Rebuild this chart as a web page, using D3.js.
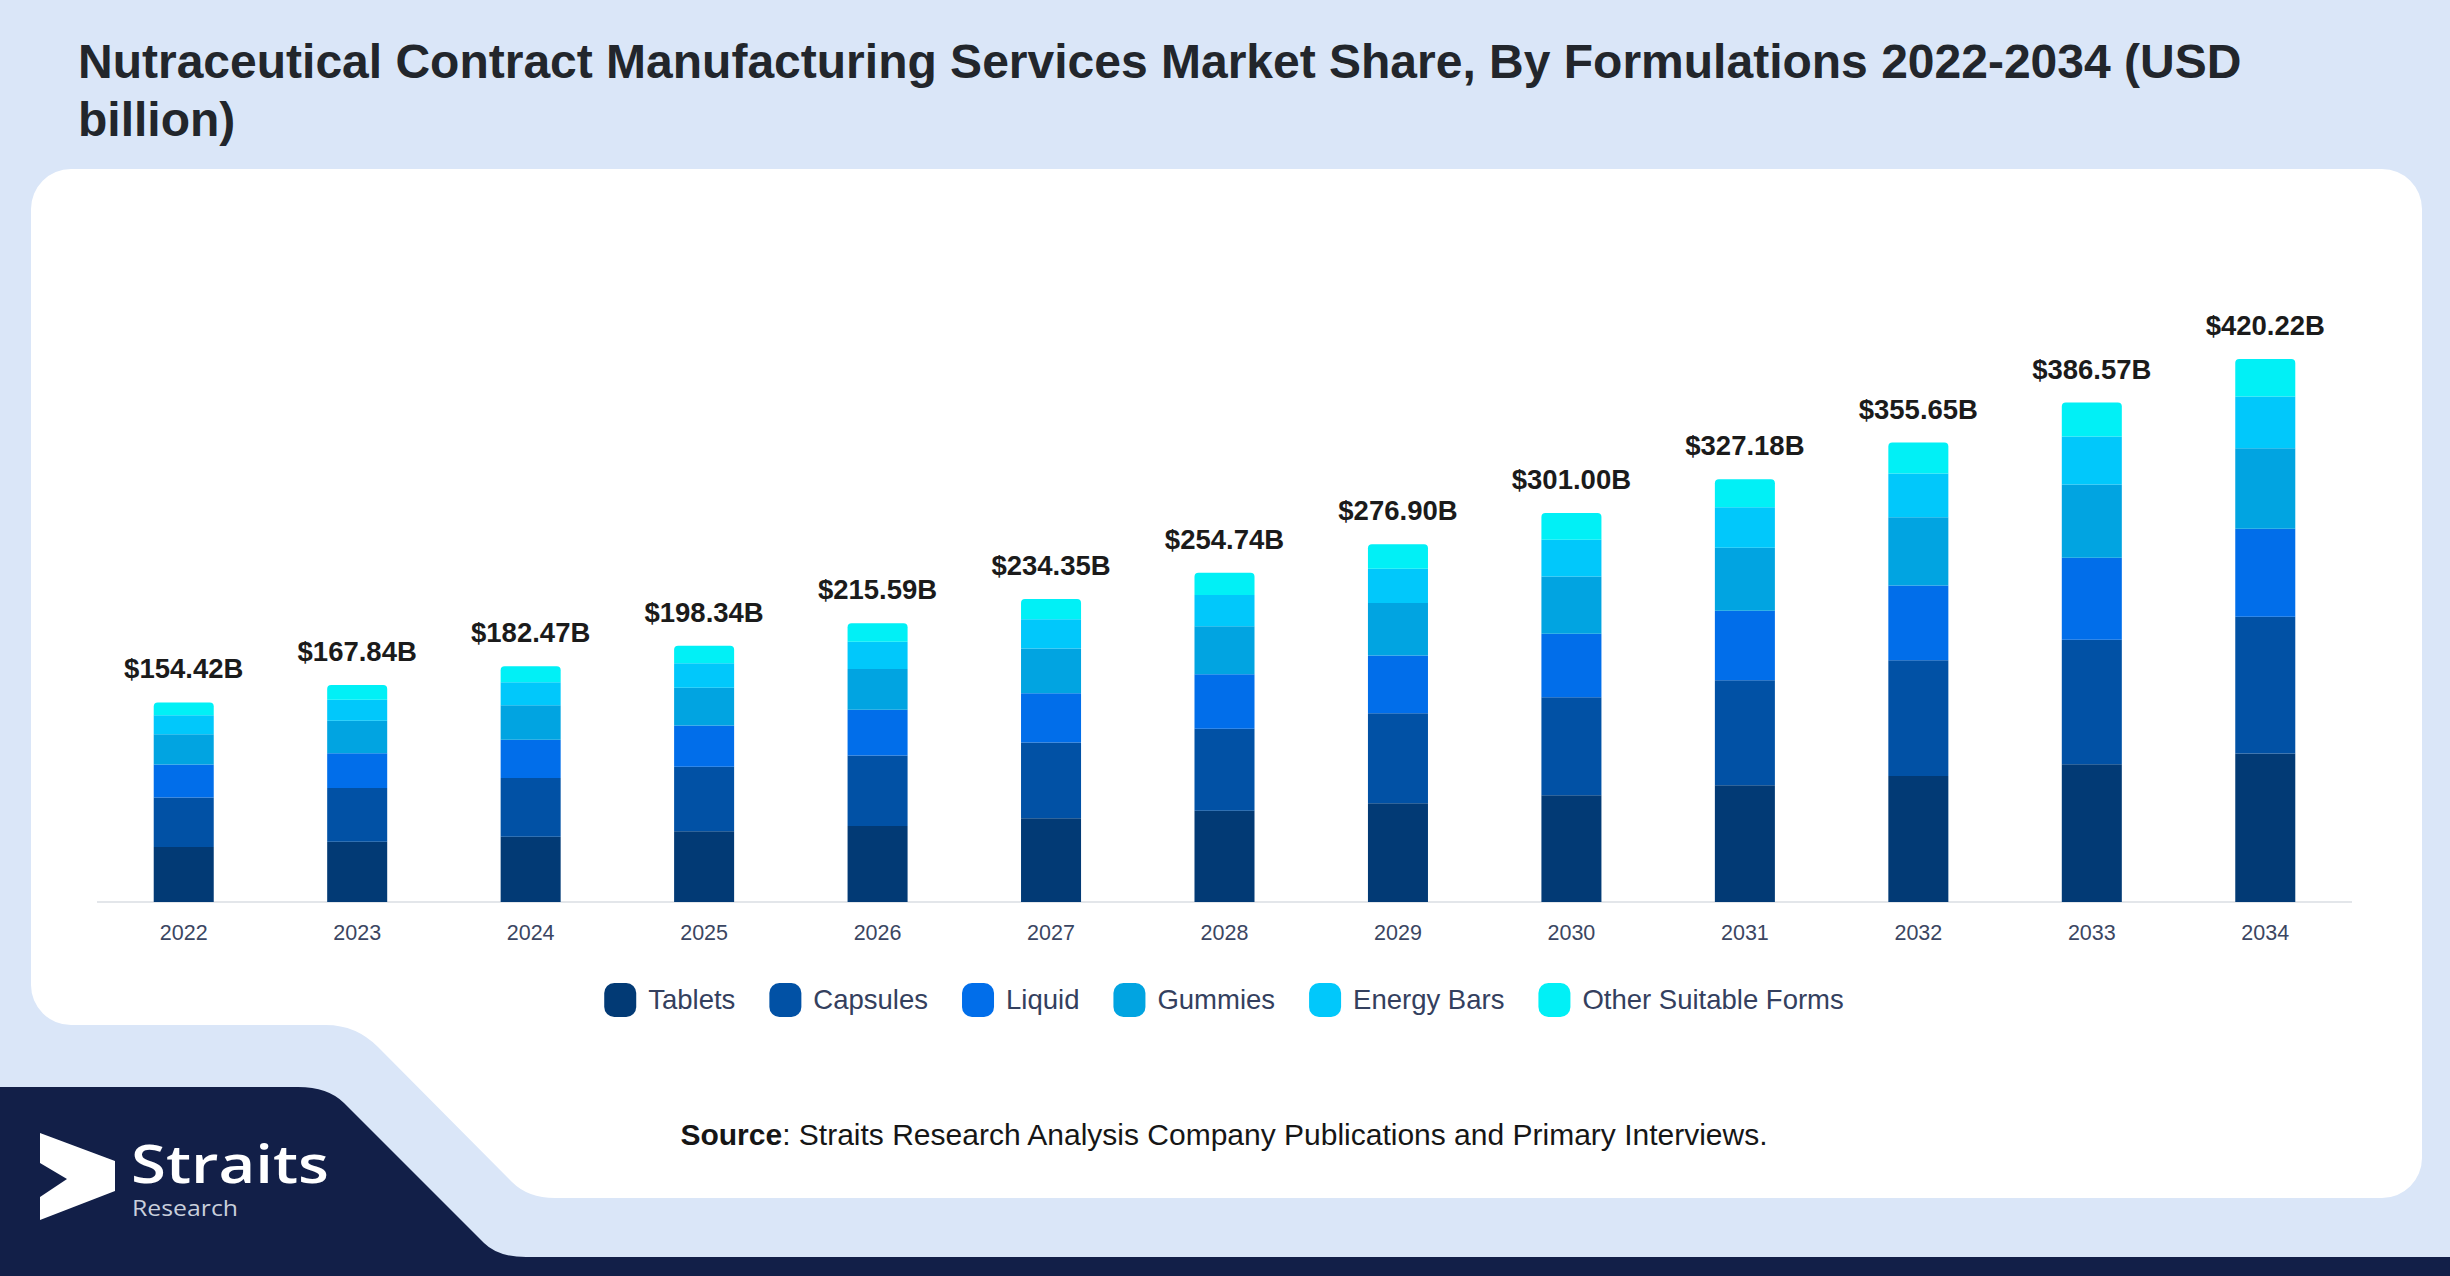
<!DOCTYPE html>
<html>
<head>
<meta charset="utf-8">
<script src="https://cdn.jsdelivr.net/npm/d3@7"></script>
<style>
  html, body { margin: 0; padding: 0; background: #dae6f8; }
  svg { display: block; }
  text { font-family: "Liberation Sans", Arial, sans-serif; }
</style>
</head>
<body>
<svg id="chart" width="2450" height="1276"></svg>
<script>
// ---------- DATA ----------
const years = ["2022","2023","2024","2025","2026","2027","2028","2029","2030","2031","2032","2033","2034"];
const totalLabels = ["$154.42B","$167.84B","$182.47B","$198.34B","$215.59B","$234.35B","$254.74B","$276.90B","$301.00B","$327.18B","$355.65B","$386.57B","$420.22B"];
const seriesNames = ["Tablets","Capsules","Liquid","Gummies","Energy Bars","Other Suitable Forms"];
const tablets     = [42.6, 46.7, 50.4, 54.8, 58.9, 64.8, 70.6, 76.5, 82.7, 90.4, 97.6, 106.6, 115.0];
const capsules    = [38.2, 41.6, 45.5, 49.8, 54.5, 58.6, 63.4, 69.5, 75.7, 81.2, 89.4, 96.4, 105.7];
const liquid      = [25.6, 26.9, 29.7, 32.0, 35.4, 38.2, 42.2, 44.7, 49.1, 53.8, 57.9, 63.4, 68.2];
const gummies     = [23.5, 25.0, 26.6, 29.2, 31.5, 34.6, 37.2, 40.6, 44.4, 48.8, 52.8, 56.7, 62.3];
const energyBars  = [14.7, 16.3, 17.8, 18.9, 21.2, 22.7, 24.1, 26.6, 28.4, 31.3, 33.9, 37.2, 40.0];
const otherForms  = [ 9.8, 11.4, 12.4, 13.7, 14.2, 15.5, 17.3, 18.9, 20.7, 21.7, 24.0, 26.2, 29.0];
const seriesColors = ["#023a75","#0151a5","#016eea","#01a4e1","#01c8fb","#01f0f6"];

const titleLines = ["Nutraceutical Contract Manufacturing Services Market Share, By Formulations 2022-2034 (USD", "billion)"];

// ---------- BUILD ----------
const svg = d3.select("#chart");
const W = 2450, H = 1276;

svg.append("rect").attr("width", W).attr("height", H).attr("fill", "#dae6f8");

// white card with lower-left cut
svg.append("path")
  .attr("fill", "#ffffff")
  .attr("d", "M71,169 H2382 A40,40 0 0 1 2422,209 V1158 A40,40 0 0 1 2382,1198 H555 Q528,1198 512,1182 L378,1047 Q356,1025 326,1025 H71 A40,40 0 0 1 31,985 V209 A40,40 0 0 1 71,169 Z");

// navy footer band
svg.append("path")
  .attr("fill", "#121f48")
  .attr("d", "M0,1087 H298 Q328,1087 344,1103 L484,1243 Q498,1257 526,1257 H2450 V1276 H0 Z");

// logo
svg.append("path").attr("fill", "#ffffff")
  .attr("d", "M40,1133 L115,1161 L115,1191 L40,1220 L40,1197 L67,1179 L40,1163 Z");
svg.append("text").attr("x", 131).attr("y", 1183).attr("fill", "#ffffff")
  .attr("font-weight", 600)
  .attr("font-size", 52).attr("textLength", 198).attr("lengthAdjust", "spacingAndGlyphs")
  .style("font-family", "'Open Sans', sans-serif")
  .text("Straits");
svg.append("text").attr("x", 132).attr("y", 1216).attr("fill", "#c9cfdc")
  .attr("font-size", 21).attr("textLength", 106).attr("lengthAdjust", "spacingAndGlyphs")
  .style("font-family", "'Open Sans', sans-serif")
  .text("Research");

// title
const title = svg.append("text").attr("fill", "#22262c").attr("font-weight", "bold").attr("font-size", 48);
titleLines.forEach((l, i) => {
  title.append("tspan").attr("x", 78).attr("y", 78 + i * 58).text(l);
});

// scales
const x = d3.scaleBand().domain(years).range([97, 2352]).paddingInner(0.654).paddingOuter(0.327);
const y = d3.scaleLinear().domain([0, 420.22]).range([902, 359]);

const seriesData = [tablets, capsules, liquid, gummies, energyBars, otherForms];
const rows = years.map((yr, i) => {
  const o = { year: yr };
  seriesNames.forEach((s, k) => o[s] = seriesData[k][i]);
  return o;
});
const stack = d3.stack().keys(seriesNames)(rows);

// axis line
svg.append("line").attr("x1", 97).attr("x2", 2352).attr("y1", y(0)).attr("y2", y(0))
  .attr("stroke", "#e3e6ea").attr("stroke-width", 2);

// bars
const g = svg.append("g");
stack.forEach((layer, k) => {
  const isTop = k === stack.length - 1;
  g.append("g").attr("fill", seriesColors[k])
    .selectAll("path").data(layer).join("path")
    .attr("d", d => {
      const x0 = x(d.data.year), w = x.bandwidth();
      const yt = y(d[1]), yb = y(d[0]);
      if (isTop) {
        const r = 4;
        return `M${x0},${yb} V${yt + r} Q${x0},${yt} ${x0 + r},${yt} H${x0 + w - r} Q${x0 + w},${yt} ${x0 + w},${yt + r} V${yb} Z`;
      }
      return `M${x0},${yb} V${yt} H${x0 + w} V${yb} Z`;
    });
});

// totals labels
const topLayer = stack[stack.length - 1];
svg.append("g").selectAll("text").data(topLayer).join("text")
  .attr("x", d => x(d.data.year) + x.bandwidth() / 2)
  .attr("y", d => y(d[1]) - 24)
  .attr("text-anchor", "middle")
  .attr("font-size", 27.5).attr("font-weight", "bold").attr("fill", "#1b1b1b")
  .text((d, i) => totalLabels[i]);

// x axis labels
const xAxis = d3.axisBottom(x).tickSize(0).tickPadding(0);
const ax = svg.append("g").attr("transform", `translate(0,${y(0)})`).call(xAxis);
ax.select(".domain").remove();
ax.selectAll("text").attr("font-size", 21.5).attr("fill", "#3b4662")
  .attr("dy", null).attr("y", 38).style("font-family", "'Liberation Sans', Arial, sans-serif");

// legend
const legend = svg.append("g");
const items = seriesNames.map((s, k) => {
  const gi = legend.append("g");
  gi.append("rect").attr("width", 32).attr("height", 34).attr("rx", 10).attr("fill", seriesColors[k]).attr("y", -17);
  const t = gi.append("text").attr("x", 44).attr("y", 9).attr("font-size", 27.5).attr("fill", "#34405e").text(s);
  return { gi, w: 44 + t.node().getComputedTextLength() };
});
const gap = 34;
const totalW = d3.sum(items, d => d.w) + gap * (items.length - 1);
let cx = 1224 - totalW / 2;
items.forEach(it => { it.gi.attr("transform", `translate(${cx},1000)`); cx += it.w + gap; });

// source
const src = svg.append("text").attr("x", 1224).attr("y", 1145).attr("text-anchor", "middle")
  .attr("font-size", 30).attr("fill", "#161616");
src.append("tspan").attr("font-weight", "bold").text("Source");
src.append("tspan").text(": Straits Research Analysis Company Publications and Primary Interviews.");
</script>
</body>
</html>
